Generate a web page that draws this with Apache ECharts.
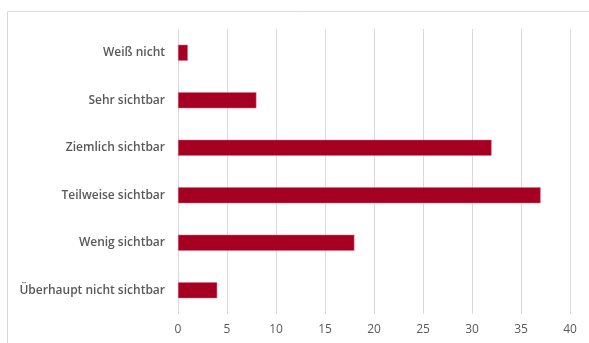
<!DOCTYPE html>
<html><head><meta charset="utf-8">
<script src="https://cdn.jsdelivr.net/npm/echarts@6/dist/echarts.min.js"></script>
<style>html,body{margin:0;padding:0;background:#fff}#c{width:589px;height:343px}</style>
</head><body><div id="c"></div>
<script>
const categories = ["Überhaupt nicht sichtbar","Wenig sichtbar","Teilweise sichtbar","Ziemlich sichtbar","Sehr sichtbar","Weiß nicht"];
const values = [4, 18, 37, 32, 8, 1];
const xTicks = {min: 0, max: 40, interval: 5};

const chart = echarts.init(document.getElementById('c'), null, {renderer: 'canvas'});
chart.setOption({
  animation: false,
  graphic: [{type: 'rect', shape: {x: 7.5, y: 11.5, width: 700, height: 500}, style: {fill: 'none', stroke: '#d9d9d9', lineWidth: 1}}],
  grid: {left: 178, right: 19, top: 29, bottom: 29, containLabel: false},
  xAxis: {type: 'value', min: xTicks.min, max: xTicks.max, interval: xTicks.interval,
    axisLine: {show: false}, axisTick: {show: false},
    splitLine: {lineStyle: {color: '#d9d9d9', width: 1}},
    axisLabel: {color: '#595959', fontSize: 12, fontFamily: 'Open Sans', margin: 10}},
  yAxis: {type: 'category', data: categories,
    axisLine: {show: false}, axisTick: {show: false},
    axisLabel: {color: '#595959', fontSize: 12, fontWeight: 600, fontFamily: 'Open Sans', margin: 13}},
  series: [{type: 'bar', data: values, barWidth: 16,
    itemStyle: {color: '#a50021', borderColor: '#e06a80', borderWidth: 0.5}}]
});
</script></body></html>
